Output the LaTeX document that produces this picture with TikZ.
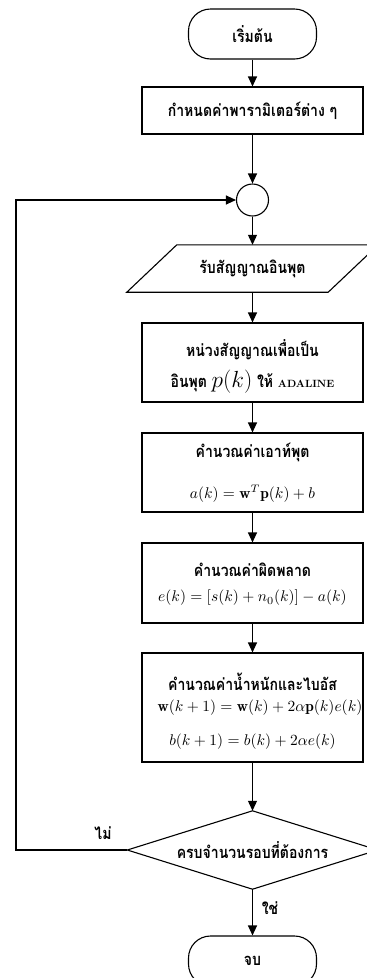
\documentclass[tikz,border=0pt]{standalone}
\usepackage{fontspec}
\usepackage{amsmath}
\usepackage{graphicx}
\usetikzlibrary{arrows.meta}
\newfontfamily\thai[Script=Thai, FakeStretch=0.85]{Loma}
\newcommand{\eqbigx}[1]{\scalebox{1.55}{$#1$}}
\tikzset{
  line/.style={line width=1.1pt},
  arr/.style={line, -{Triangle[length=10pt,width=9pt]}},
  procbox/.style={line, draw, minimum width=221pt, inner sep=0pt},
  term/.style={line, draw, rounded corners=22pt, minimum width=128pt, minimum height=50pt, inner sep=0pt},
  th/.style={font=\thai\bfseries\fontsize{16.5}{18}\selectfont, inner sep=0pt},
  mth/.style={inner sep=0pt},
}
\begin{document}
\begin{tikzpicture}[x=1pt,y=-1pt]
\useasboundingbox (0,0) rectangle (367,978);
\clip (0,0) rectangle (367,978);
% nodes
\node[term, th] (start) at (252.5,34) {เริ่มต้น};
\node[procbox, minimum height=47pt, th] (b1) at (252.5,110.5) {กำหนดค่าพารามิเตอร์ต่าง ๆ};
\node[line, draw, circle, minimum size=32pt, inner sep=0pt] (circ) at (252.5,200) {};
\node[minimum width=201pt, minimum height=47pt, inner sep=0pt, th] (inp) at (252.5,268.5) {รับสัญญาณอินพุต};
\draw[line] ([xshift=-25pt]inp.south west) -- ([xshift=-25pt]inp.south east)
  -- ([xshift=25pt]inp.north east) -- ([xshift=25pt]inp.north west) -- cycle;
\node[procbox, minimum height=79pt] (b2) at (252.5,362.5) {};
\node[th] (b2a) at (252.5,350) {หน่วงสัญญาณเพื่อเป็น};
\node[th] (b2b) at (252.5,382) {อินพุต \scalebox{1.35}{$p(k)$} ให้ {\rmfamily\fontsize{10.5}{12}\selectfont ADALINE}};
\node[procbox, minimum height=79pt] (b3) at (252.5,472.5) {};
\node[th] (b3a) at (252.5,452) {คำนวณค่าเอาท์พุต};
\node[mth] (b3b) at (252.5,494) {\eqbigx{a(k)=\mathbf{w}^T\mathbf{p}(k)+b}};
\node[procbox, minimum height=80pt] (b4) at (252.5,583) {};
\node[th] (b4a) at (252.5,570) {คำนวณค่าผิดพลาด};
\node[mth] (b4b) at (252.5,598) {\eqbigx{e(k)=[s(k)+n_0(k)]-a(k)}};
\node[procbox, minimum height=109pt] (b5) at (252.5,707.5) {};
\node[th] (b5a) at (252.5,682) {คำนวณค่าน้ำหนักและไบอัส};
\node[mth] (b5b) at (260,708) {\eqbigx{\mathbf{w}(k+1)=\mathbf{w}(k)+2\alpha\mathbf{p}(k)e(k)}};
\node[mth] (b5c) at (252.5,742) {\eqbigx{b(k+1)=b(k)+2\alpha e(k)}};
\node[minimum width=250pt, minimum height=78pt, inner sep=0pt, th] (dec) at (252.5,850) {ครบจำนวนรอบที่ต้องการ};
\draw[line] (dec.north) -- (dec.east) -- (dec.south) -- (dec.west) -- cycle;
\node[term, th] (stop) at (252.5,961) {จบ};
\node[th] (no) at (103,833) {ไม่};
\node[th] (yes) at (270,908) {ใช่};
% connectors
\draw[arr] (start) -- (b1);
\draw[arr] (b1) -- (circ);
\draw[arr] (circ) -- (inp.north);
\draw[arr] (inp.south) -- (b2);
\draw[arr] (b2) -- (b3);
\draw[arr] (b3) -- (b4);
\draw[arr] (b4) -- (b5);
\draw[arr] (b5) -- (dec.north);
\draw[arr] (dec.south) -- (stop);
\coordinate (fbx) at (16,0);
\draw[arr] (dec.west) -- (dec.west -| fbx) -- (circ.west -| fbx) -- (circ.west);
\end{tikzpicture}
\end{document}
